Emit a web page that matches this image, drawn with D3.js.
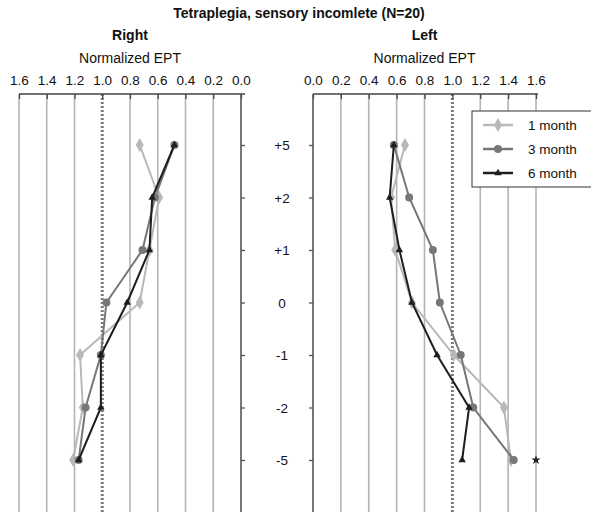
<!DOCTYPE html>
<html lang="en">
<head>
  <meta charset="UTF-8">
  <title>Tetraplegia, sensory incomlete</title>
  <script src="https://d3js.org/d3.v7.min.js"></script>
  <style>
    body { margin: 0; background: #fff; }
    text { font-family: "Liberation Sans", Arial, sans-serif; fill: #111; }
  </style>
</head>
<body>
  <svg width="591" height="514"></svg>
  <script>
  // levels relative to lesion
  var categories = ["+5", "+2", "+1", "0", "-1", "-2", "-5"];
  var ticksEPT = [0, 0.2, 0.4, 0.6, 0.8, 1.0, 1.2, 1.4, 1.6];
  var seriesNames = ["1 month", "3 month", "6 month"];

  // normalized EPT, right side
  var rightM1 = [0.73, 0.59, 0.66, 0.73, 1.16, 1.14, 1.21];
  var rightM3 = [0.48, 0.62, 0.71, 0.97, 1.01, 1.12, 1.17];
  var rightM6 = [0.48, 0.64, 0.66, 0.82, 1.01, 1.01, 1.17];
  // normalized EPT, left side
  var leftM1 = [0.66, 0.56, 0.59, 0.71, 1.01, 1.37, 1.42];
  var leftM3 = [0.58, 0.69, 0.86, 0.91, 1.06, 1.15, 1.44];
  var leftM6 = [0.58, 0.55, 0.62, 0.71, 0.89, 1.12, 1.07];
  // significance mark
  var starMark = {cat: "-5", value: 1.6};

  var colors = ["#b8b8b8", "#777777", "#1e1e1e"];
  var symbols = [d3.symbolDiamond, d3.symbolCircle, d3.symbolTriangle];
  var symSizes = [55, 50, 24];

  var svg = d3.select("svg");
  var axisTop = 94, axisBottom = 512;
  var fs = "13.5px";

  var y = d3.scalePoint().domain(categories).range([92.5, 512.5]).padding(1);
  var xRight = d3.scaleLinear().domain([0, 1.6]).range([241, 19]);
  var xLeft = d3.scaleLinear().domain([0, 1.6]).range([313, 536]);

  svg.append("text")
      .attr("x", 299).attr("y", 18)
      .attr("text-anchor", "middle")
      .style("font-weight", "bold").style("font-size", "14px")
      .text("Tetraplegia, sensory incomlete (N=20)");

  function panel(x, title, data, side) {
    var cx = (x.range()[0] + x.range()[1]) / 2;
    var g = svg.append("g");

    g.append("text").attr("x", cx).attr("y", 40)
        .attr("text-anchor", "middle")
        .style("font-weight", "bold").style("font-size", "14px")
        .text(title);
    g.append("text").attr("x", cx).attr("y", 63)
        .attr("text-anchor", "middle")
        .style("font-size", "14px")
        .text("Normalized EPT");

    // grid lines
    g.selectAll(".grid")
      .data(ticksEPT.filter(function(d) { return d !== 0; }))
      .enter().append("line")
        .attr("x1", function(d) { return x(d); })
        .attr("x2", function(d) { return x(d); })
        .attr("y1", axisTop).attr("y2", axisBottom)
        .attr("stroke", function(d) { return d === 1.0 ? "#7a7a7a" : "#b4b4b4"; })
        .attr("stroke-width", function(d) { return d === 1.0 ? 3 : 1.6; })
        .attr("stroke-dasharray", function(d) { return d === 1.0 ? "2,2" : null; });

    // top axis
    var ax = g.append("g")
        .attr("transform", "translate(0," + axisTop + ")")
        .call(d3.axisTop(x).tickValues(ticksEPT).tickSize(-5).tickPadding(9)
          .tickFormat(d3.format(".1f")));
    ax.select(".domain").attr("stroke", "#444").attr("stroke-width", 1.3)
        .attr("d", side === "right" ? "M" + (x(1.6)) + ",0H" + (x(0) + 4) : "M" + (x(0)) + ",0H" + (x(1.6) + 2));
    ax.selectAll(".tick line").attr("stroke", "#444").attr("stroke-width", 1.3);
    ax.selectAll(".tick text").style("font-size", fs)
        .style("font-family", "Liberation Sans, Arial, sans-serif").attr("fill", "#111");

    // vertical category axis
    var vAxis = side === "right" ? d3.axisRight(y) : d3.axisLeft(y);
    var va = g.append("g")
        .attr("transform", "translate(" + x(0) + ",0)")
        .call(vAxis.tickSize(4).tickSizeOuter(0).tickFormat(""));
    va.select(".domain").attr("stroke", "#555").attr("stroke-width", 1.6)
        .attr("d", "M0," + axisTop + "V" + axisBottom);
    va.selectAll(".tick line").attr("stroke", "#555").attr("stroke-width", 1.3);

    var line = d3.line()
        .x(function(d, i) { return x(d); })
        .y(function(d, i) { return y(categories[i]); });

    data.forEach(function(vals, s) {
      g.append("path")
          .datum(vals)
          .attr("fill", "none")
          .attr("stroke", colors[s])
          .attr("stroke-width", 2)
          .attr("d", line);
      g.selectAll(".pt" + s)
        .data(vals)
        .enter().append("path")
          .attr("transform", function(d, i) {
            return "translate(" + x(d) + "," + y(categories[i]) + ")";
          })
          .attr("d", d3.symbol().type(symbols[s]).size(symSizes[s]))
          .attr("fill", colors[s]);
    });
    return g;
  }

  panel(xRight, "Right", [rightM1, rightM3, rightM6], "right");
  var leftG = panel(xLeft, "Left", [leftM1, leftM3, leftM6], "left");

  // category labels between the panels
  svg.selectAll(".cat")
    .data(categories)
    .enter().append("text")
      .attr("x", 282)
      .attr("y", function(d) { return y(d) + 5; })
      .attr("text-anchor", "middle")
      .style("font-size", fs)
      .text(function(d) { return d; });

  // star
  leftG.append("path")
      .attr("transform", "translate(" + xLeft(starMark.value) + "," + y(starMark.cat) + ")")
      .attr("d", d3.symbol().type(d3.symbolStar).size(28))
      .attr("fill", "#222");

  // legend
  var lg = svg.append("g").attr("transform", "translate(472,111)");
  lg.append("rect")
      .attr("width", 130).attr("height", 76)
      .attr("fill", "#fff").attr("stroke", "#333").attr("stroke-width", 1);
  seriesNames.forEach(function(name, s) {
    var ly = 14 + s * 24;
    lg.append("line")
        .attr("x1", 11).attr("x2", 41).attr("y1", ly).attr("y2", ly)
        .attr("stroke", colors[s]).attr("stroke-width", 2.5);
    lg.append("path")
        .attr("transform", "translate(26," + ly + ")")
        .attr("d", d3.symbol().type(symbols[s]).size(symSizes[s]))
        .attr("fill", colors[s]);
    lg.append("text")
        .attr("x", 56).attr("y", ly + 5)
        .style("font-size", fs)
        .text(name);
  });
  </script>
</body>
</html>
